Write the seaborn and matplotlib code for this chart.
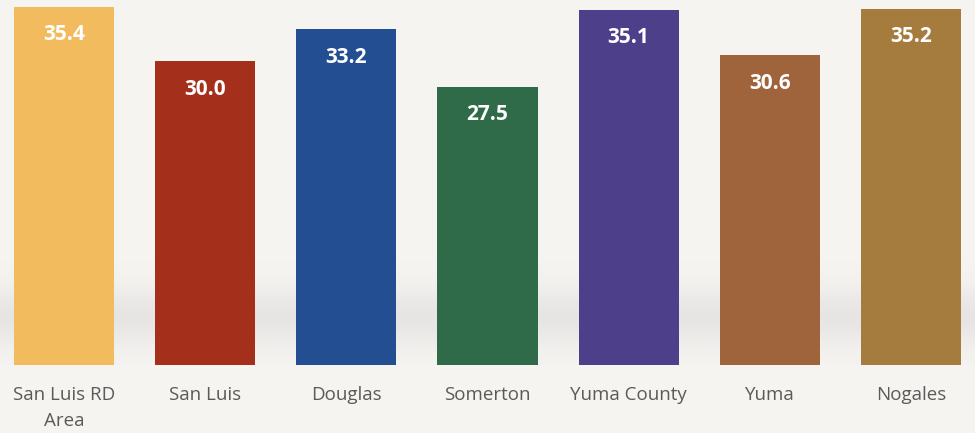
import numpy as np
import pandas as pd
import matplotlib
matplotlib.use("Agg")
import matplotlib.pyplot as plt
import seaborn as sns

categories = ["San Luis RD\nArea", "San Luis", "Douglas", "Somerton", "Yuma County", "Yuma", "Nogales"]
values = [35.4, 30.0, 33.2, 27.5, 35.1, 30.6, 35.2]
colors = ["#F2BC5E", "#A4301C", "#234E92", "#2F6B48", "#4E3F8A", "#A0643C", "#A67C3E"]

sns.set_theme(style="white")
plt.rcParams["font.family"] = ["Open Sans", "DejaVu Sans"]

df = pd.DataFrame({"cat": categories, "val": values})

bg = "#F6F4F1"
fig = plt.figure(figsize=(9.75, 4.33), dpi=100)
fig.patch.set_facecolor(bg)
ax = fig.add_axes([-6.5 / 975, 68 / 433, 988 / 975, 365 / 433])
ax.set_facecolor(bg)

# soft floor shadow behind the bars
grad = np.linspace(0, 1, 200)
shade = np.exp(-((grad - 0.13) / 0.08) ** 2) * 0.16
img = np.zeros((200, 1, 4))
img[..., 0] = 0.6
img[..., 1] = 0.6
img[..., 2] = 0.62
img[:, 0, 3] = shade
ax.imshow(img, extent=(-0.5, 6.5, 0, 36.07), origin="lower", aspect="auto", zorder=0)

sns.barplot(data=df, x="cat", y="val", hue="cat", palette=colors, legend=False,
            width=0.71, saturation=1, linewidth=0, edgecolor="none", ax=ax, zorder=2)

for i, v in enumerate(values):
    ax.text(i, v - 2.77, f"{v:.1f}", ha="center", va="center", color="white",
            fontsize=15, fontweight="bold", zorder=3)

ax.set_xlim(-0.5, 6.5)
ax.set_ylim(0, 36.07)
ax.set_xlabel("")
ax.set_ylabel("")
ax.set_yticks([])
ax.tick_params(axis="x", length=0, pad=15, labelsize=13.5, labelcolor="#5A5A5A")
for lab in ax.get_xticklabels():
    lab.set_linespacing(1.55)
for s in ax.spines.values():
    s.set_visible(False)

fig.savefig("out.png", dpi=100, facecolor=fig.get_facecolor())
